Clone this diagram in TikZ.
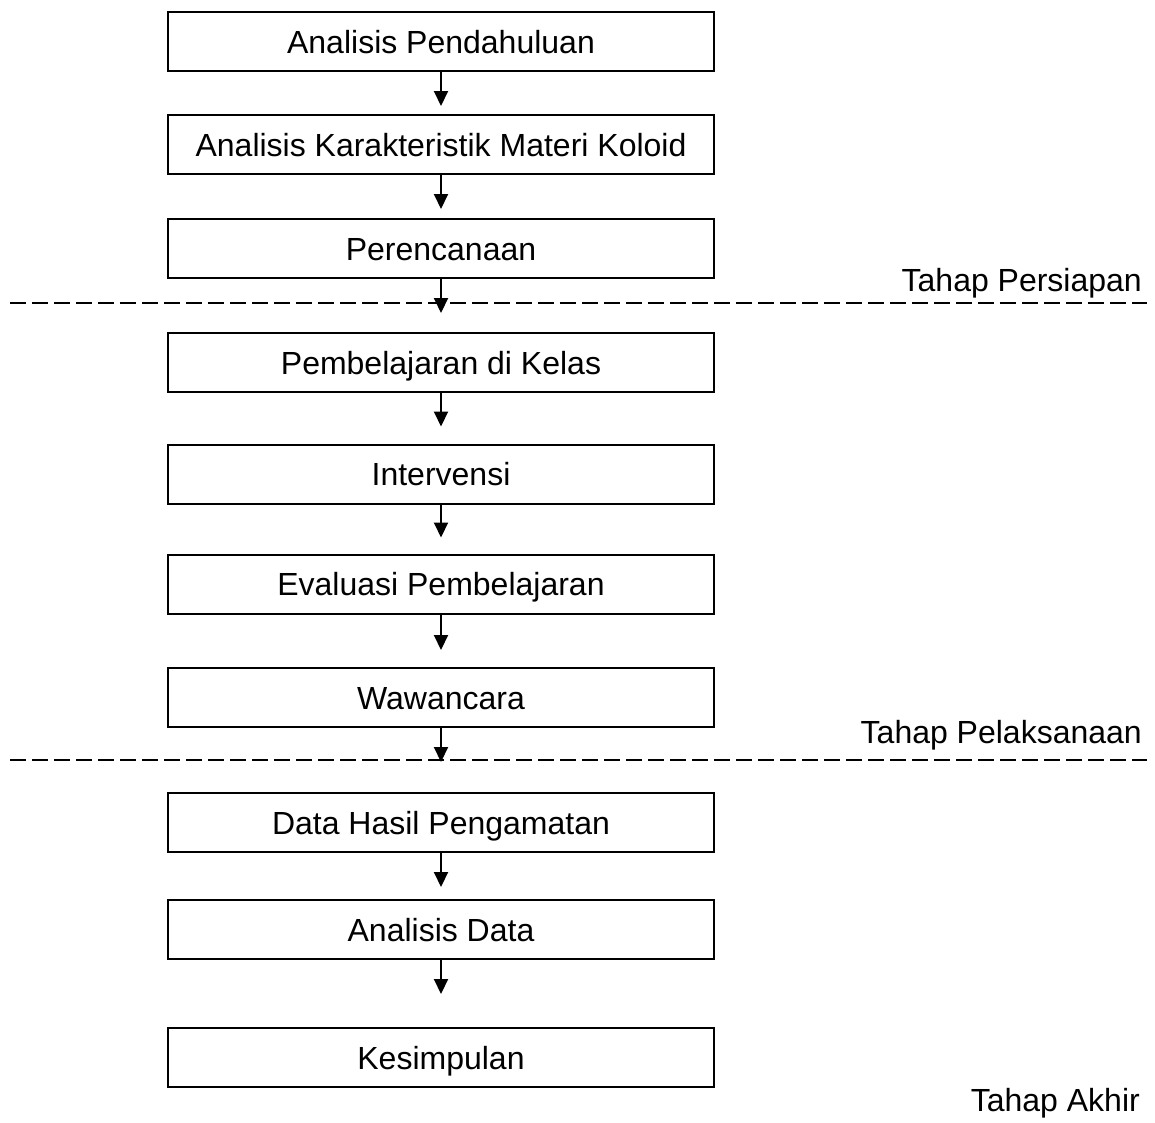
\documentclass[tikz,border=0pt]{standalone}
\usepackage{fontspec}
\setmainfont{Liberation Sans}
\usetikzlibrary{arrows.meta}
\begin{document}
\begin{tikzpicture}[x=1pt,y=-1pt,
  stepbox/.style={draw,line width=2pt,minimum width=546pt,minimum height=59pt,inner sep=0pt,
    text height=23pt,text depth=0pt,font=\fontsize{32}{38}\selectfont},
  flow/.style={line width=2pt,-{Triangle[length=15pt,width=14pt]}},
  phase/.style={anchor=base east,inner sep=0pt,font=\fontsize{32}{38}\selectfont},
  sep/.style={line width=2pt,dash pattern=on 15.5pt off 6.5pt}]
\useasboundingbox (0,0) rectangle (1155,1122);
\node[stepbox] (b1) at (441,41.5) {Analisis Pendahuluan};
\node[stepbox] (b2) at (441,144.5) {Analisis Karakteristik Materi Koloid};
\node[stepbox] (b3) at (441,248.5) {Perencanaan};
\node[stepbox] (b4) at (441,362.5) {Pembelajaran di Kelas};
\node[stepbox] (b5) at (441,474) {Intervensi};
\node[stepbox] (b6) at (441,584) {Evaluasi Pembelajaran};
\node[stepbox] (b7) at (441,697.5) {Wawancara};
\node[stepbox] (b8) at (441,822.5) {Data Hasil Pengamatan};
\node[stepbox] (b9) at (441,929.5) {Analisis Data};
\node[stepbox] (b10) at (441,1057.5) {Kesimpulan};
\draw[flow,shorten >=8pt] (b1) -- (b2);
\draw[flow,shorten >=9pt] (b2) -- (b3);
\draw[flow,shorten >=19pt] (b3) -- (b4);
\draw[flow,shorten >=17pt] (b4) -- (b5);
\draw[flow,shorten >=16pt] (b5) -- (b6);
\draw[flow,shorten >=17pt] (b6) -- (b7);
\draw[flow,shorten >=30pt] (b7) -- (b8);
\draw[flow,shorten >=12pt] (b8) -- (b9);
\draw[flow,shorten >=33pt] (b9) -- (b10);
\coordinate (d1a) at (10,303);
\coordinate (d1b) at (1147,303);
\coordinate (d2a) at (10,760);
\coordinate (d2b) at (1147,760);
\draw[sep] (d1a) -- (d1b);
\draw[sep] (d2a) -- (d2b);
\node[phase] (l1) at (1142,291) {Tahap Persiapan};
\node[phase] (l2) at (1142,743) {Tahap Pelaksanaan};
\node[phase] (l3) at (1140,1111) {Tahap Akhir};
\end{tikzpicture}
\end{document}
